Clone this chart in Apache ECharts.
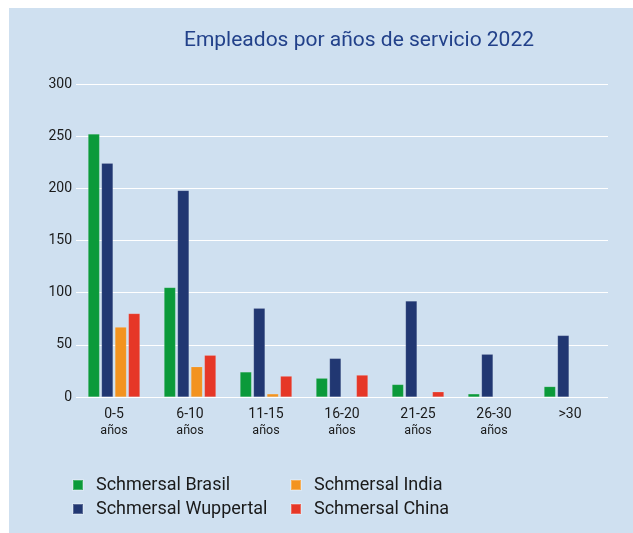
<!DOCTYPE html>
<html>
<head>
<meta charset="utf-8">
<script src="https://cdn.jsdelivr.net/npm/echarts@6/dist/echarts.min.js"></script>
<style>
  html, body { margin: 0; padding: 0; background: #fff; }
  #main { position: absolute; left: 9px; top: 8px; width: 624px; height: 525px; background: #cfe0f0; }
</style>
</head>
<body>
<div id="main"></div>
<script>
var categories = ['0-5', '6-10', '11-15', '16-20', '21-25', '26-30', '>30'];
var subLabels = ['años', 'años', 'años', 'años', 'años', 'años', ''];
var brasil = [252, 105, 24, 18, 12, 3, 10];
var wuppertal = [224, 198, 85, 37, 92, 41, 59];
var india = [67, 29, 3, 0, 0, 0, 0];
var china = [80, 40, 20, 21, 5, 0, 0];
var yTicks = [0, 50, 100, 150, 200, 250, 300];

var app = echarts.init(document.getElementById('main'));

function bar(name, data, color) {
    return {
        name: name,
        type: 'bar',
        data: data.map(function (v) { return v === 0 ? null : v; }),
        barWidth: 11.5,
        barGap: '17%',
        itemStyle: { color: color, borderColor: 'rgba(255,255,255,0.25)', borderWidth: 0.5 }
    };
}

var legendText = { fontFamily: 'Roboto', fontSize: 18, color: '#1a1a1a', padding: [0, 0, 0, 8] };

function legend(names, left) {
    return {
        data: names,
        orient: 'vertical',
        left: left,
        top: 463,
        itemWidth: 10,
        itemHeight: 10,
        itemGap: 6,
        icon: 'rect',
        textStyle: legendText
    };
}

option = {
    title: {
        text: 'Empleados por años de servicio 2022',
        left: 345,
        top: 17,
        textAlign: 'center',
        textStyle: { fontFamily: 'Roboto', fontWeight: 'normal', fontSize: 21, color: '#22418a' }
    },
    legend: [
        legend(['Schmersal Brasil', 'Schmersal Wuppertal'], 58),
        legend(['Schmersal India', 'Schmersal China'], 276)
    ],
    grid: { left: 67, top: 76, width: 532, height: 313 },
    xAxis: {
        type: 'category',
        data: categories,
        axisLine: { show: false },
        axisTick: { show: false },
        axisLabel: {
            margin: 8,
            interval: 0,
            formatter: function (v, i) {
                return subLabels[i] ? '{a|' + v + '}\n{b|' + subLabels[i] + '}' : '{a|' + v + '}';
            },
            rich: {
                a: { fontFamily: 'Roboto', fontSize: 14, color: '#1a1a1a', lineHeight: 18 },
                b: { fontFamily: 'Roboto', fontSize: 12.5, color: '#1a1a1a', lineHeight: 15 }
            }
        }
    },
    yAxis: {
        type: 'value',
        min: yTicks[0],
        max: yTicks[yTicks.length - 1],
        interval: 50,
        axisLabel: { margin: 4, fontFamily: 'Roboto', fontSize: 14, color: '#1a1a1a' },
        splitLine: { lineStyle: { color: '#ffffff', width: 1.2 } }
    },
    series: [
        bar('Schmersal Brasil', brasil, '#0b9a3a'),
        bar('Schmersal Wuppertal', wuppertal, '#213772'),
        bar('Schmersal India', india, '#f3931f'),
        bar('Schmersal China', china, '#e63727')
    ]
};

app.setOption(option);
</script>
</body>
</html>
